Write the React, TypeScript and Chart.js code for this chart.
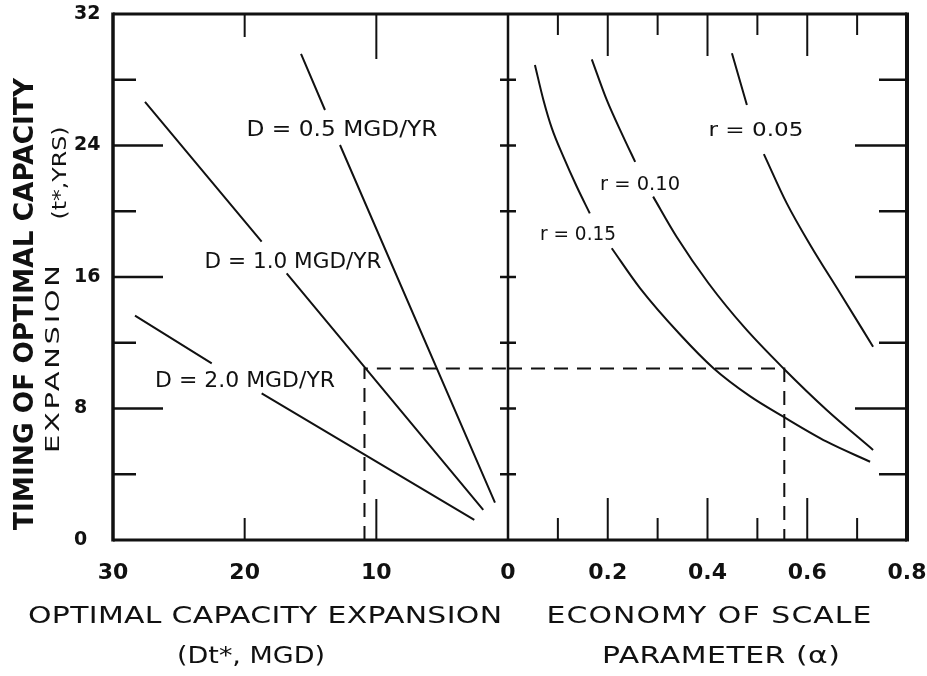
import { useEffect, useRef } from 'react';
import { Chart, registerables } from 'chart.js';

Chart.register(...registerables);

// ---------- data ----------
const timingTicks = [0, 8, 16, 24, 32];
const capacityTicks = [30, 20, 10, 0];
const alphaTicks = [0.2, 0.4, 0.6, 0.8];

// Left panel: optimal capacity expansion Dt* (MGD) vs timing t* (yrs); null = gap for label
const d05Capacity = [15.72, 13.9, 13.3, 12.76, 0.99];
const d05Timing = [29.57, 26.16, null, 24.03, 2.27];
const d10Capacity = [27.57, 18.71, 17.8, 16.81, 1.88];
const d10Timing = [26.66, 18.15, null, 16.22, 1.83];
const d20Capacity = [28.33, 22.5, 20.6, 18.71, 2.56];
const d20Timing = [13.65, 10.75, null, 8.92, 1.22];

// Right panel: economy of scale parameter (alpha) vs timing t* (yrs)
const r15Alpha = [0.054, 0.071, 0.088, 0.111, 0.138, 0.164, 0.186, 0.208, 0.265, 0.345, 0.412, 0.485, 0.552, 0.639, 0.726];
const r15Timing = [28.9, 26.77, 25.04, 23.32, 21.49, 19.87, null, 17.75, 15.31, 12.5, 10.45, 8.75, 7.5, 5.98, 4.76];
const r10Alpha = [0.168, 0.198, 0.231, 0.255, 0.273, 0.291, 0.338, 0.402, 0.475, 0.552, 0.639, 0.732];
const r10Timing = [29.24, 26.77, 24.54, 23.0, null, 20.89, 18.45, 15.62, 12.9, 10.45, 7.91, 5.48];
const r05Alpha = [0.449, 0.479, 0.496, 0.513, 0.559, 0.606, 0.666, 0.732];
const r05Timing = [29.61, 26.46, null, 23.48, 20.48, 17.95, 15.01, 11.76];

// Worked example (dashed guide)
const exampleCapacity = 10.9;
const exampleTiming = 10.44;
const exampleAlpha = 0.554;

// Curve labels [text, x value, t value]
const capacityLabels: [string, number, number][] = [
  ['D = 0.5 MGD/YR', 12.61, 24.88],
  ['D = 1.0 MGD/YR', 16.33, 16.85],
  ['D = 2.0 MGD/YR', 19.97, 9.64],
];
const alphaLabels: [string, number, number][] = [
  ['r = 0.15', 0.1404, 18.56],
  ['r = 0.10', 0.2647, 21.57],
  ['r = 0.05', 0.4972, 24.85],
];

// Axis tick-mark positions (inward marks)
const timingMarks = [4, 8, 12, 16, 20, 24, 28];
const capacityMarks = [20, 10];
const alphaMarks = [0.1, 0.2, 0.3, 0.4, 0.5, 0.6, 0.7];

// ---------- drawing ----------
const FONT = '"DejaVu Sans", sans-serif';
const INK = '#111';

function pts(xs: number[], ys: (number | null)[]) {
  return xs.map((x, i) => ({ x, y: ys[i] }));
}

function drawFit(ctx: CanvasRenderingContext2D, text: string, x: number, y: number, width: number, size: number, angle = 0, maxStretch = 1.3, weight = 'normal') {
  ctx.save();
  ctx.translate(x, y);
  if (angle) ctx.rotate(angle);
  ctx.font = `${weight} ${size}px ${FONT}`;
  (ctx as any).letterSpacing = '0px';
  const natural = ctx.measureText(text).width;
  const n = text.length;
  let sx = width / natural;
  let spacing = 0;
  if (sx > maxStretch) {
    sx = maxStretch;
    spacing = (width / sx - natural) / (n - 1);
  } else if (sx < 0.9) {
    sx = 0.9;
    spacing = (width / sx - natural) / (n - 1);
  }
  ctx.scale(sx, 1);
  (ctx as any).letterSpacing = `${spacing}px`;
  ctx.textAlign = 'left';
  ctx.textBaseline = 'middle';
  ctx.fillStyle = INK;
  ctx.fillText(text, -width / (2 * sx), 0);
  ctx.restore();
}

const framePlugin = {
  id: 'frame',
  afterDraw(chart: any) {
    const { ctx, chartArea: a, scales } = chart;
    const y = scales.y, xL = scales.xL, xR = scales.xR;
    const midX = xL.getPixelForValue(0);
    ctx.save();
    ctx.strokeStyle = INK;
    ctx.lineCap = 'butt';
    const line = (x1: number, y1: number, x2: number, y2: number, w: number) => {
      ctx.lineWidth = w;
      ctx.beginPath();
      ctx.moveTo(x1, y1);
      ctx.lineTo(x2, y2);
      ctx.stroke();
    };
    line(a.left, a.top - 1.5, a.left, a.bottom + 1.5, 3.5);
    line(a.left, a.top, a.right, a.top, 3);
    line(a.right, a.top - 1.5, a.right, a.bottom + 1.5, 4);
    line(a.left, a.bottom, a.right, a.bottom, 3);
    line(midX, a.top, midX, a.bottom, 2.5);
    for (const v of timingMarks) {
      const py = y.getPixelForValue(v);
      const major = v % 8 === 0;
      line(a.left, py, a.left + (major ? 50 : 23), py, 2.5);
      line(a.right, py, a.right - (major ? 52 : 28), py, 2.5);
      line(midX - 8, py, midX + 8, py, 2.5);
    }
    for (const v of capacityMarks) {
      const px = xL.getPixelForValue(v);
      const long = v % 20 !== 0;
      line(px, a.top, px, a.top + (long ? 45 : 23), 2);
      line(px, a.bottom, px, a.bottom - (long ? 41 : 22), 2);
    }
    for (const v of alphaMarks) {
      const px = xR.getPixelForValue(v);
      const long = Math.round(v * 10) % 2 === 0;
      line(px, a.top, px, a.top + (long ? 42 : 21), 2);
      line(px, a.bottom, px, a.bottom - (long ? 42 : 22), 2);
    }
    ctx.restore();

    const widthsD = [191, 177, 180];
    capacityLabels.forEach(([t, xv, yv], i) => {
      drawFit(ctx, t, xL.getPixelForValue(xv), y.getPixelForValue(yv), widthsD[i], 21);
    });
    const widthsR = [76, 80, 95];
    alphaLabels.forEach(([t, xv, yv], i) => {
      drawFit(ctx, t, xR.getPixelForValue(xv), y.getPixelForValue(yv), widthsR[i], 19);
    });

    drawFit(ctx, 'TIMING OF OPTIMAL CAPACITY', 26, 304, 452, 27, -Math.PI / 2, 1.3, 'bold');
    drawFit(ctx, 'EXPANSION', 54, 359, 188, 20, -Math.PI / 2, 1.45);
    drawFit(ctx, '(t*,YRS)', 61, 173, 93, 20, -Math.PI / 2, 1.45);
    drawFit(ctx, 'OPTIMAL CAPACITY EXPANSION', 265, 617, 474, 23);
    drawFit(ctx, '(Dt*, MGD)', 251, 657, 148, 23);
    drawFit(ctx, 'ECONOMY OF SCALE', 709, 617, 325, 23);
    drawFit(ctx, 'PARAMETER (\u03B1)', 721, 657, 238, 23);
  },
};

export default function App() {
  const ref = useRef<HTMLCanvasElement>(null);
  useEffect(() => {
    if (!ref.current) return;
    const solid = { borderColor: INK, borderWidth: 2, pointRadius: 0, fill: false, spanGaps: false };
    const noPad = (s: any) => { s.paddingLeft = 0; s.paddingRight = 0; };
    const tickFont = { family: FONT, size: 22, weight: 'bold' };
    const chart = new Chart(ref.current, {
      type: 'line',
      data: {
        datasets: [
          { ...solid, label: 'D=0.5', xAxisID: 'xL', yAxisID: 'y', data: pts(d05Capacity, d05Timing), tension: 0 },
          { ...solid, label: 'D=1.0', xAxisID: 'xL', yAxisID: 'y', data: pts(d10Capacity, d10Timing), tension: 0 },
          { ...solid, label: 'D=2.0', xAxisID: 'xL', yAxisID: 'y', data: pts(d20Capacity, d20Timing), tension: 0 },
          { ...solid, label: 'r=0.15', xAxisID: 'xR', yAxisID: 'y', data: pts(r15Alpha, r15Timing), cubicInterpolationMode: 'monotone' },
          { ...solid, label: 'r=0.10', xAxisID: 'xR', yAxisID: 'y', data: pts(r10Alpha, r10Timing), cubicInterpolationMode: 'monotone' },
          { ...solid, label: 'r=0.05', xAxisID: 'xR', yAxisID: 'y', data: pts(r05Alpha, r05Timing), cubicInterpolationMode: 'monotone' },
          {
            ...solid, label: 'guide L', xAxisID: 'xL', yAxisID: 'y', borderDash: [14, 9], tension: 0,
            data: [{ x: exampleCapacity, y: 0 }, { x: exampleCapacity, y: exampleTiming }, { x: 0, y: exampleTiming }],
          },
          {
            ...solid, label: 'guide R', xAxisID: 'xR', yAxisID: 'y', borderDash: [14, 9], tension: 0,
            data: [{ x: 0, y: exampleTiming }, { x: exampleAlpha, y: exampleTiming }, { x: exampleAlpha, y: 0 }],
          },
        ] as any,
      },
      options: {
        animation: false,
        responsive: false,
        devicePixelRatio: 1,
        parsing: false,
        normalized: true,
        layout: { padding: { left: 74, top: 14, right: 20, bottom: 0 } },
        plugins: { legend: { display: false }, tooltip: { enabled: false }, title: { display: false } },
        scales: {
          xL: {
            type: 'linear', position: 'bottom', stack: 'x', stackWeight: 395, reverse: true,
            min: 0, max: 30,
            grid: { display: false }, border: { display: false },
            afterBuildTicks: (s: any) => { s.ticks = capacityTicks.map((v) => ({ value: v })); },
            afterFit: (s: any) => { s.height = 136; noPad(s); },
            ticks: { autoSkip: false, maxRotation: 0, padding: 12, color: INK, font: tickFont, callback: (v: any) => String(v) },
          },
          xR: {
            type: 'linear', position: 'bottom', stack: 'x', stackWeight: 399,
            min: 0, max: 0.8,
            grid: { display: false }, border: { display: false },
            afterBuildTicks: (s: any) => { s.ticks = alphaTicks.map((v) => ({ value: v })); },
            afterFit: (s: any) => { s.height = 136; noPad(s); },
            ticks: { autoSkip: false, maxRotation: 0, padding: 12, color: INK, font: tickFont, callback: (v: any) => Number(v).toFixed(1) },
          },
          y: {
            type: 'linear', position: 'left', min: 0, max: 32,
            grid: { display: false }, border: { display: false },
            afterBuildTicks: (s: any) => { s.ticks = timingTicks.map((v) => ({ value: v })); },
            afterFit: (s: any) => { s.width = 39; },
            ticks: { crossAlign: 'far', padding: 0, color: INK, font: { family: FONT, size: 19, weight: 'bold' } },
          },
        } as any,
      },
      plugins: [framePlugin],
    });
    return () => chart.destroy();
  }, []);
  return (
    <div style={{ position: 'fixed', left: 0, top: 0, width: 927, height: 676, background: '#fff' }}>
      <canvas ref={ref} width={927} height={676} style={{ width: 927, height: 676 }} />
    </div>
  );
}
